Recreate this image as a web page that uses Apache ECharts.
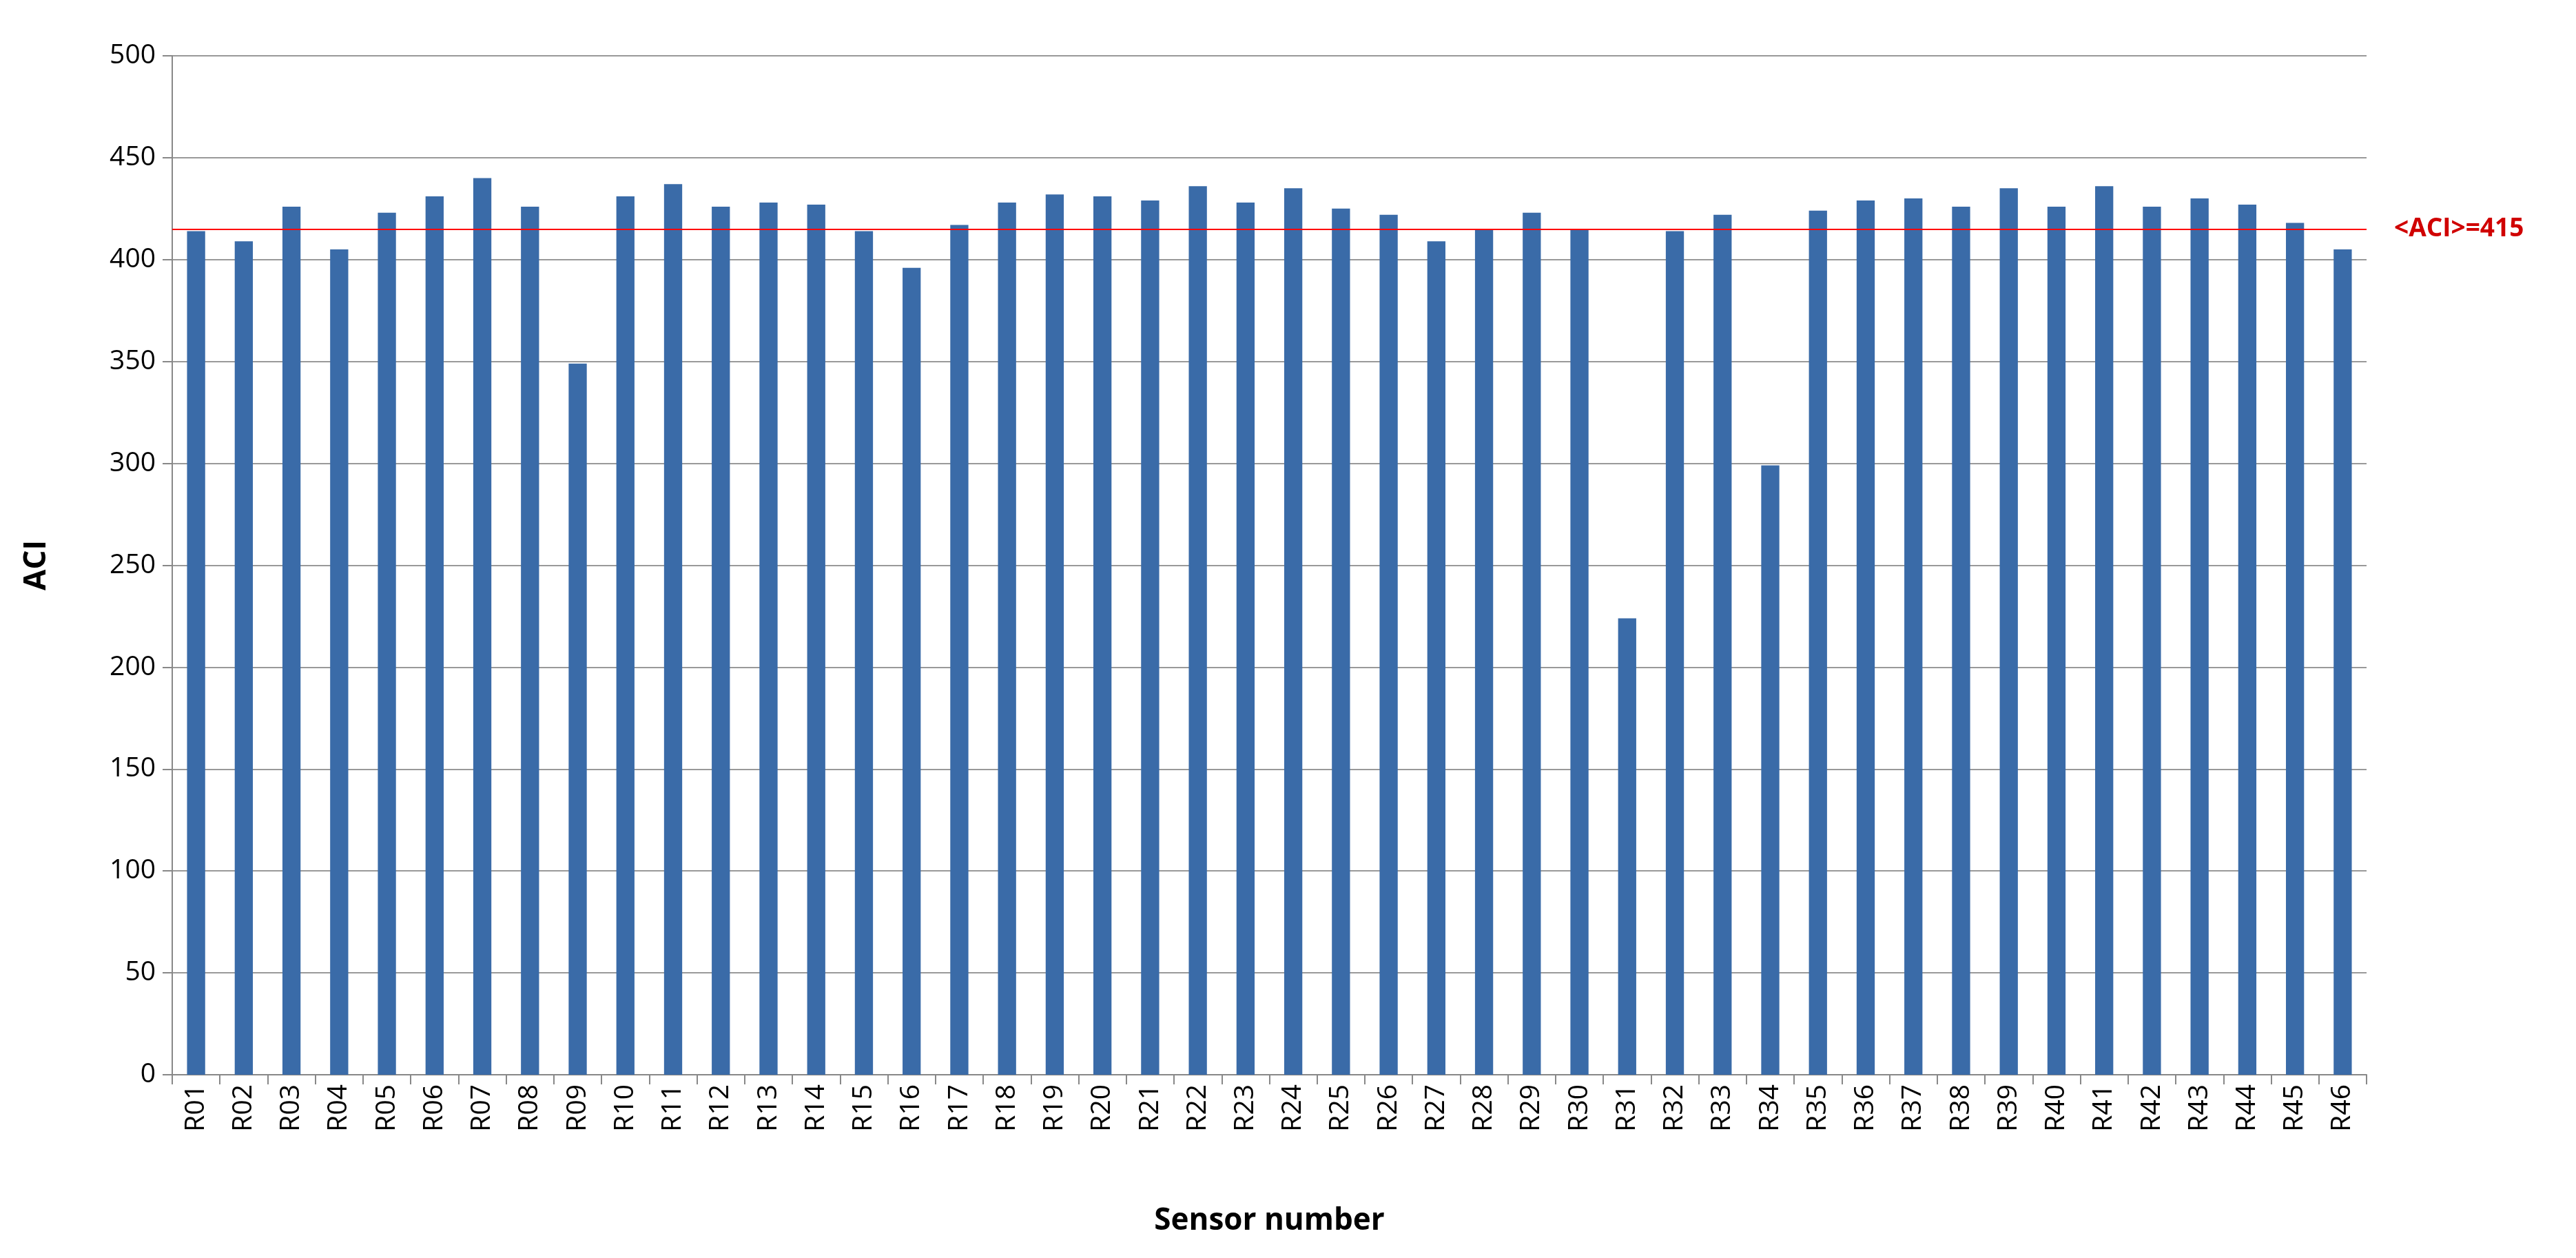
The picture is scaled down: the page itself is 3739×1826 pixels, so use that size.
<!DOCTYPE html>
<html>
<head>
<meta charset="utf-8">
<script src="https://cdn.jsdelivr.net/npm/echarts@6/dist/echarts.min.js"></script>
</head>
<body style="margin:0;background:#fff">
<div id="main" style="width:3739px;height:1826px;"></div>
<script>
var sensors = [];
for (var i = 1; i <= 46; i++) sensors.push('R' + (i < 10 ? '0' : '') + i);
var aci = [414, 409, 426, 405, 423, 431, 440, 426, 349, 431, 437, 426, 428, 427, 414, 396, 417, 428, 432, 431,
           429, 436, 428, 435, 425, 422, 409, 415, 423, 415, 224, 414, 422, 299, 424, 429, 430, 426, 435, 426,
           436, 426, 430, 427, 418, 405];
var meanAci = 415;

var chart = echarts.init(document.getElementById('main'));
chart.setOption({
    animation: false,
    grid: { left: 250, right: 304, top: 81, bottom: 266 },
    xAxis: {
        type: 'category', data: sensors,
        name: 'Sensor number', nameLocation: 'middle', nameGap: 190,
        nameTextStyle: { fontFamily: 'Open Sans', fontWeight: 'bold', fontSize: 44, color: '#000' },
        axisLine: { lineStyle: { color: '#888', width: 2 } },
        axisTick: { show: true, length: 14, lineStyle: { color: '#888', width: 2 } },
        axisLabel: { rotate: 90, fontFamily: 'Open Sans', fontSize: 39, color: '#000', margin: 14 }
    },
    yAxis: {
        type: 'value', min: 0, max: 500, interval: 50,
        name: 'ACI', nameLocation: 'middle', nameGap: 175, nameRotate: 90,
        nameTextStyle: { fontFamily: 'Open Sans', fontWeight: 'bold', fontSize: 44, color: '#000' },
        axisLine: { show: true, lineStyle: { color: '#888', width: 2 } },
        axisTick: { show: true, length: 14, lineStyle: { color: '#888', width: 2 } },
        axisLabel: { fontFamily: 'Open Sans', fontSize: 39, color: '#000', margin: 24 },
        splitLine: { lineStyle: { color: '#999', width: 2 } }
    },
    series: [{
        type: 'bar', data: aci, barWidth: '38%',
        itemStyle: { color: '#3a6ba8' },
        markLine: {
            symbol: 'none', silent: true,
            lineStyle: { color: '#ff0000', width: 2, type: 'solid' },
            label: { position: 'end', formatter: '<ACI>=415', color: '#d00000', fontWeight: 'bold',
                     fontFamily: 'Open Sans', fontSize: 37, distance: 40 },
            data: [{ yAxis: meanAci }]
        }
    }]
});
</script>
</body>
</html>
